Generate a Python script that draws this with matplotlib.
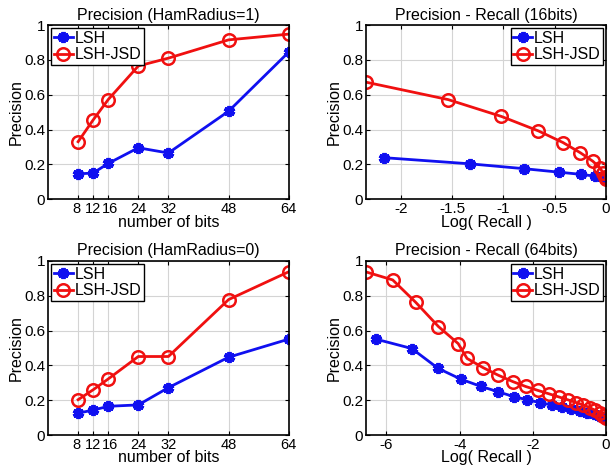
import matplotlib.pyplot as plt
from matplotlib.transforms import ScaledTranslation

plt.rcParams['font.family'] = ['Liberation Sans', 'DejaVu Sans']
plt.rcParams['font.size'] = 11.5

BLUE = '#1010f0'
RED = '#f01010'

# number of bits
bits = [8, 12, 16, 24, 32, 48, 64]

# precision, hamming radius 1
lsh_r1 = [0.145, 0.15, 0.205, 0.295, 0.265, 0.505, 0.845]
jsd_r1 = [0.33, 0.455, 0.572, 0.765, 0.81, 0.915, 0.948]

# precision, hamming radius 0
lsh_r0 = [0.126, 0.143, 0.165, 0.173, 0.272, 0.447, 0.551]
jsd_r0 = [0.203, 0.26, 0.322, 0.451, 0.451, 0.778, 0.938]

# precision-recall, 16 bits (x = log recall)
lsh16_x = [-2.16, -1.33, -0.80, -0.46, -0.24, -0.11, -0.04, 0.0]
lsh16_y = [0.238, 0.203, 0.175, 0.155, 0.142, 0.132, 0.125, 0.12]
jsd16_x = [-2.34, -1.54, -1.02, -0.66, -0.42, -0.25, -0.13, -0.06, -0.03, -0.01, 0.0]
jsd16_y = [0.672, 0.572, 0.475, 0.392, 0.325, 0.266, 0.218, 0.18, 0.15, 0.13, 0.115]

# precision-recall, 64 bits
lsh64_x = [-6.29, -5.31, -4.59, -3.97, -3.43, -2.94, -2.53, -2.17, -1.80, -1.49,
           -1.21, -0.95, -0.72, -0.52, -0.34, -0.19, -0.08, 0.0]
lsh64_y = [0.551, 0.497, 0.383, 0.321, 0.28, 0.248, 0.221, 0.203, 0.186, 0.172,
           0.16, 0.148, 0.137, 0.127, 0.118, 0.11, 0.104, 0.1]
jsd64_x = [-6.56, -5.83, -5.2, -4.58, -4.04, -3.8, -3.36, -2.95, -2.55, -2.2,
           -1.86, -1.55, -1.28, -1.04, -0.81, -0.62, -0.45, -0.31, -0.18, -0.08, 0.0]
jsd64_y = [0.937, 0.891, 0.762, 0.623, 0.525, 0.44, 0.387, 0.344, 0.307, 0.279,
           0.256, 0.236, 0.218, 0.202, 0.186, 0.172, 0.158, 0.143, 0.128, 0.112, 0.1]

yticks = [0, 0.2, 0.4, 0.6, 0.8, 1]
ytick_labels = ['0', '0.2', '0.4', '0.6', '0.8', '1']


def style(ax, title, xlabel, loc):
    ax.set_ylim(0, 1)
    ax.set_yticks(yticks)
    ax.set_yticklabels(ytick_labels)
    ax.grid(True, color='#d4d4d4', linewidth=0.8)
    ax.set_axisbelow(True)
    ax.tick_params(direction='in', length=3, width=0.8, pad=2,
                   top=True, right=True, labelsize=11)
    ax.set_title(title, fontsize=11.5, pad=4)
    ax.set_xlabel(xlabel, labelpad=-1)
    ax.set_ylabel('Precision', labelpad=0)
    for s in ax.spines.values():
        s.set_linewidth(1.2)
    leg = ax.legend(loc=loc, fancybox=False, edgecolor='black', framealpha=1,
                    borderaxespad=0.2, handlelength=1.2, handletextpad=0.1,
                    borderpad=0.15, labelspacing=0.1, fontsize=11.5)
    leg.get_frame().set_linewidth(1.0)


def bits_ticks(fig, ax):
    # the first ticks sit close together, spread their labels a little
    ax.set_xticks(bits)
    ax.tick_params(axis='x', labelsize=10.5)
    shifts = {'8': -2, '16': 2}
    for lab in ax.get_xticklabels():
        dx = shifts.get(lab.get_text(), 0)
        if dx:
            lab.set_transform(lab.get_transform() +
                              ScaledTranslation(dx / 100, 0, fig.dpi_scale_trans))


def draw(ax, x1, y1, x2, y2):
    ax.plot(x1, y1, color=BLUE, linewidth=2.0, marker=(6, 2, 0),
            markersize=8, markeredgewidth=2.8, label='LSH')
    ax.plot(x2, y2, color=RED, linewidth=2.0, marker='o', markersize=9,
            markerfacecolor='none', markeredgewidth=1.8, label='LSH-JSD')


fig = plt.figure(figsize=(6.11, 4.73), dpi=100)

ax1 = fig.add_axes([0.0786, 0.579, 0.394, 0.368])
draw(ax1, bits, lsh_r1, bits, jsd_r1)
ax1.set_xlim(0, 64)
style(ax1, 'Precision (HamRadius=1)', 'number of bits', 'upper left')
bits_ticks(fig, ax1)

ax2 = fig.add_axes([0.599, 0.579, 0.393, 0.368])
draw(ax2, lsh16_x, lsh16_y, jsd16_x, jsd16_y)
ax2.set_xlim(min(jsd16_x), 0)
ax2.set_xticks([-2, -1.5, -1, -0.5, 0])
ax2.set_xticklabels(['-2', '-1.5', '-1', '-0.5', '0'])
style(ax2, 'Precision - Recall (16bits)', 'Log( Recall )', 'upper right')

ax3 = fig.add_axes([0.0786, 0.0803, 0.394, 0.368])
draw(ax3, bits, lsh_r0, bits, jsd_r0)
ax3.set_xlim(0, 64)
style(ax3, 'Precision (HamRadius=0)', 'number of bits', 'upper left')
bits_ticks(fig, ax3)

ax4 = fig.add_axes([0.599, 0.0803, 0.393, 0.368])
draw(ax4, lsh64_x, lsh64_y, jsd64_x, jsd64_y)
ax4.set_xlim(min(jsd64_x), 0)
ax4.set_xticks([-6, -4, -2, 0])
ax4.set_xticklabels(['-6', '-4', '-2', '0'])
style(ax4, 'Precision - Recall (64bits)', 'Log( Recall )', 'upper right')

fig.savefig('out.png', dpi=100)
